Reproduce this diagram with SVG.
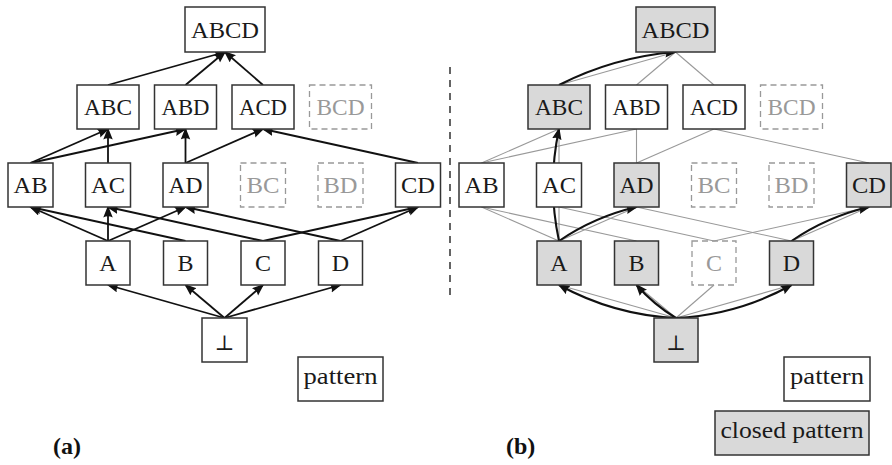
<svg xmlns="http://www.w3.org/2000/svg" width="892" height="465" viewBox="0 0 892 465">
<style>
.bx{fill:#fff;stroke:#333;stroke-width:1.5}
.cl{fill:#d9d9d9;stroke:#333;stroke-width:1.5}
.ds{fill:none;stroke:#999;stroke-width:1.3;stroke-dasharray:6 4}
text{font-family:"Liberation Serif","DejaVu Serif",serif;font-size:24px;fill:#1a1a1a;text-anchor:middle}
.gt{fill:#999}
.lab{font-weight:bold;font-size:24px;fill:#111;text-anchor:start}
.ea{stroke:#111;stroke-width:1.8;fill:none;marker-end:url(#ah)}
.eg{stroke:#999;stroke-width:1.1;fill:none}
.eb{stroke:#111;stroke-width:2.1;fill:none;marker-end:url(#ah)}
</style>
<defs>
<marker id="ah" markerUnits="userSpaceOnUse" markerWidth="14" markerHeight="12" refX="10.5" refY="4.75" orient="auto">
<path d="M0,0 L12,4.75 L0,9.5 Q2.5,4.75 0,0 z" fill="#111"/>
</marker>
</defs>

<g id="connectors-a">
<line class="ea" x1="108" y1="85" x2="225" y2="52"/>
<line class="ea" x1="185.5" y1="85" x2="225" y2="52"/>
<line class="ea" x1="263" y1="85" x2="225" y2="52"/>
<line class="ea" x1="30.5" y1="163" x2="108" y2="129"/>
<line class="ea" x1="30.5" y1="163" x2="185.5" y2="129"/>
<line class="ea" x1="108" y1="163" x2="108" y2="129"/>
<line class="ea" x1="185.5" y1="163" x2="185.5" y2="129"/>
<line class="ea" x1="185.5" y1="163" x2="263" y2="129"/>
<line class="ea" x1="418" y1="163" x2="263" y2="129"/>
<line class="ea" x1="108" y1="241" x2="30.5" y2="207"/>
<line class="ea" x1="108" y1="241" x2="108" y2="207"/>
<line class="ea" x1="108" y1="241" x2="185.5" y2="207"/>
<line class="ea" x1="185.5" y1="241" x2="30.5" y2="207"/>
<line class="ea" x1="263" y1="241" x2="108" y2="207"/>
<line class="ea" x1="263" y1="241" x2="418" y2="207"/>
<line class="ea" x1="340.5" y1="241" x2="185.5" y2="207"/>
<line class="ea" x1="340.5" y1="241" x2="418" y2="207"/>
<line class="ea" x1="224.5" y1="318" x2="108" y2="285"/>
<line class="ea" x1="224.5" y1="318" x2="185.5" y2="285"/>
<line class="ea" x1="224.5" y1="318" x2="263" y2="285"/>
<line class="ea" x1="224.5" y1="318" x2="340.5" y2="285"/>
</g>

<g id="connectors-b">
<line class="eg" x1="559" y1="85" x2="675.5" y2="52"/>
<line class="eg" x1="636.5" y1="85" x2="675.5" y2="52"/>
<line class="eg" x1="714" y1="85" x2="675.5" y2="52"/>
<line class="eg" x1="481.5" y1="163" x2="559" y2="129"/>
<line class="eg" x1="481.5" y1="163" x2="636.5" y2="129"/>
<line class="eg" x1="559" y1="163" x2="559" y2="129"/>
<line class="eg" x1="636.5" y1="163" x2="636.5" y2="129"/>
<line class="eg" x1="636.5" y1="163" x2="714" y2="129"/>
<line class="eg" x1="869" y1="163" x2="714" y2="129"/>
<line class="eg" x1="559" y1="241" x2="481.5" y2="207"/>
<line class="eg" x1="559" y1="241" x2="559" y2="207"/>
<line class="eg" x1="559" y1="241" x2="636.5" y2="207"/>
<line class="eg" x1="636.5" y1="241" x2="481.5" y2="207"/>
<line class="eg" x1="714" y1="241" x2="559" y2="207"/>
<line class="eg" x1="714" y1="241" x2="869" y2="207"/>
<line class="eg" x1="791.5" y1="241" x2="636.5" y2="207"/>
<line class="eg" x1="791.5" y1="241" x2="869" y2="207"/>
<line class="eg" x1="676" y1="318" x2="559" y2="285"/>
<line class="eg" x1="676" y1="318" x2="636.5" y2="285"/>
<line class="eg" x1="676" y1="318" x2="714" y2="285"/>
<line class="eg" x1="676" y1="318" x2="791.5" y2="285"/>
<path class="eb" d="M676,318 Q613.7,315 559,285"/>
<path class="eb" d="M676,318 Q653.7,304.6 636.5,285"/>
<path class="eb" d="M676,318 Q737.6,315 791.5,285"/>
<path class="eb" d="M559,241 Q594.5,216.7 636.5,207"/>
<path class="eb" d="M559,241 Q547,185 559,129"/>
<path class="eb" d="M791.5,241 Q827,216.7 869,207"/>
<path class="eb" d="M559,85 Q614,57 675.5,52"/>
</g>

<line id="divider" x1="450" y1="67" x2="450" y2="298" stroke="#111" stroke-width="1.3" stroke-dasharray="7 6"/>

<g id="a-ABCD"><rect class="bx" x="185" y="7" width="80" height="45"/><text x="225" y="37.5" textLength="68" lengthAdjust="spacingAndGlyphs">ABCD</text></g>
<g id="a-ABC"><rect class="bx" x="77" y="85" width="62" height="44"/><text x="108" y="115" textLength="48" lengthAdjust="spacingAndGlyphs">ABC</text></g>
<g id="a-ABD"><rect class="bx" x="154.5" y="85" width="62" height="44"/><text x="185.5" y="115" textLength="48" lengthAdjust="spacingAndGlyphs">ABD</text></g>
<g id="a-ACD"><rect class="bx" x="232" y="85" width="62" height="44"/><text x="263" y="115" textLength="48" lengthAdjust="spacingAndGlyphs">ACD</text></g>
<g id="a-BCD"><rect class="ds" x="309.5" y="85" width="62" height="44"/><text class="gt" x="340.5" y="115" textLength="48" lengthAdjust="spacingAndGlyphs">BCD</text></g>
<g id="a-AB"><rect class="bx" x="8" y="163" width="45" height="44"/><text x="30.5" y="193" textLength="34" lengthAdjust="spacingAndGlyphs">AB</text></g>
<g id="a-AC"><rect class="bx" x="85.5" y="163" width="45" height="44"/><text x="108" y="193" textLength="34" lengthAdjust="spacingAndGlyphs">AC</text></g>
<g id="a-AD"><rect class="bx" x="163" y="163" width="45" height="44"/><text x="185.5" y="193" textLength="34" lengthAdjust="spacingAndGlyphs">AD</text></g>
<g id="a-BC"><rect class="ds" x="240.5" y="163" width="45" height="44"/><text class="gt" x="263" y="193" textLength="33" lengthAdjust="spacingAndGlyphs">BC</text></g>
<g id="a-BD"><rect class="ds" x="318" y="163" width="45" height="44"/><text class="gt" x="340.5" y="193" textLength="34" lengthAdjust="spacingAndGlyphs">BD</text></g>
<g id="a-CD"><rect class="bx" x="395.5" y="163" width="45" height="44"/><text x="418" y="193" textLength="34" lengthAdjust="spacingAndGlyphs">CD</text></g>
<g id="a-A"><rect class="bx" x="86" y="241" width="44" height="44"/><text x="108" y="271">A</text></g>
<g id="a-B"><rect class="bx" x="163.5" y="241" width="44" height="44"/><text x="185.5" y="271">B</text></g>
<g id="a-C"><rect class="bx" x="241" y="241" width="44" height="44"/><text x="263" y="271">C</text></g>
<g id="a-D"><rect class="bx" x="318.5" y="241" width="44" height="44"/><text x="340.5" y="271">D</text></g>
<g id="a-bottom"><rect class="bx" x="202" y="318" width="45" height="44"/><text x="224.5" y="350" style="font-family:'DejaVu Serif',serif;font-size:21px">⊥</text></g>
<g id="a-legend"><rect class="bx" x="298" y="357" width="85" height="44"/><text x="340.5" y="384" textLength="74" lengthAdjust="spacingAndGlyphs">pattern</text></g>
<text class="lab" x="53" y="454">(a)</text>

<g id="b-ABCD"><rect class="cl" x="636" y="7" width="79" height="45"/><text x="675.5" y="37.5" textLength="68" lengthAdjust="spacingAndGlyphs">ABCD</text></g>
<g id="b-ABC"><rect class="cl" x="528" y="85" width="62" height="44"/><text x="559" y="115" textLength="48" lengthAdjust="spacingAndGlyphs">ABC</text></g>
<g id="b-ABD"><rect class="bx" x="605.5" y="85" width="62" height="44"/><text x="636.5" y="115" textLength="48" lengthAdjust="spacingAndGlyphs">ABD</text></g>
<g id="b-ACD"><rect class="bx" x="683" y="85" width="62" height="44"/><text x="714" y="115" textLength="48" lengthAdjust="spacingAndGlyphs">ACD</text></g>
<g id="b-BCD"><rect class="ds" x="760.5" y="85" width="62" height="44"/><text class="gt" x="791.5" y="115" textLength="48" lengthAdjust="spacingAndGlyphs">BCD</text></g>
<g id="b-AB"><rect class="bx" x="459" y="163" width="45" height="44"/><text x="481.5" y="193" textLength="34" lengthAdjust="spacingAndGlyphs">AB</text></g>
<g id="b-AC"><rect class="bx" x="536.5" y="163" width="45" height="44"/><text x="559" y="193" textLength="34" lengthAdjust="spacingAndGlyphs">AC</text></g>
<g id="b-AD"><rect class="cl" x="614" y="163" width="45" height="44"/><text x="636.5" y="193" textLength="34" lengthAdjust="spacingAndGlyphs">AD</text></g>
<g id="b-BC"><rect class="ds" x="691.5" y="163" width="45" height="44"/><text class="gt" x="714" y="193" textLength="33" lengthAdjust="spacingAndGlyphs">BC</text></g>
<g id="b-BD"><rect class="ds" x="769" y="163" width="45" height="44"/><text class="gt" x="791.5" y="193" textLength="34" lengthAdjust="spacingAndGlyphs">BD</text></g>
<g id="b-CD"><rect class="cl" x="846.5" y="163" width="44.5" height="44"/><text x="869" y="193" textLength="34" lengthAdjust="spacingAndGlyphs">CD</text></g>
<g id="b-A"><rect class="cl" x="537" y="241" width="44" height="44"/><text x="559" y="271">A</text></g>
<g id="b-B"><rect class="cl" x="614.5" y="241" width="44" height="44"/><text x="636.5" y="271">B</text></g>
<g id="b-C"><rect class="ds" x="692" y="241" width="44" height="44"/><text class="gt" x="714" y="271">C</text></g>
<g id="b-D"><rect class="cl" x="769.5" y="241" width="44" height="44"/><text x="791.5" y="271">D</text></g>
<g id="b-bottom"><rect class="cl" x="654" y="318" width="44" height="44"/><text x="676" y="350" style="font-family:'DejaVu Serif',serif;font-size:21px">⊥</text></g>
<g id="b-legend-pattern"><rect class="bx" x="784" y="357" width="86" height="44"/><text x="827" y="384" textLength="74" lengthAdjust="spacingAndGlyphs">pattern</text></g>
<g id="b-legend-closed"><rect class="cl" x="715" y="411" width="154" height="44"/><text x="792" y="437.5" textLength="143" lengthAdjust="spacingAndGlyphs">closed pattern</text></g>
<text class="lab" x="506" y="454">(b)</text>
</svg>
